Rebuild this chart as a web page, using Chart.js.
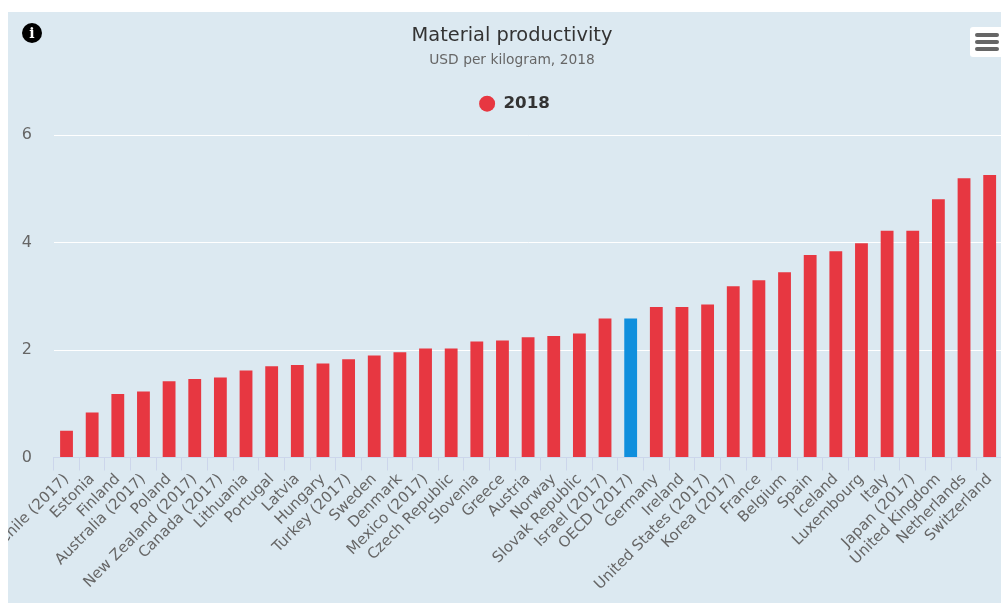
<!DOCTYPE html>
<html>
<head>
<meta charset="utf-8">
<title>Material productivity</title>
<script src="https://cdn.jsdelivr.net/npm/chart.js@4/dist/chart.umd.min.js"></script>
<style>
  html, body { margin: 0; height: 100%; overflow: hidden; background: #fff; }
  #panel { position: absolute; left: 8px; top: 12px; width: 1008px; height: 591px; background: #dce9f1; }
  #info { position: absolute; left: 14px; top: 11px; width: 20px; height: 20px; border-radius: 50%; background: #000; color: #fff;
    font: bold 14px/20px "DejaVu Serif", serif; text-align: center; }
  #menu { position: absolute; left: 962px; top: 15px; width: 46px; height: 30px; border-radius: 3px; background: #fff; }
  #menu i { position: absolute; left: 5px; width: 24px; height: 4px; border-radius: 2px; background: #666; }
</style>
</head>
<body>
<div id="panel">
  <canvas id="myChart" width="1008" height="591"></canvas>
  <div id="info">i</div>
  <div id="menu"><i style="top:6px"></i><i style="top:13px"></i><i style="top:20px"></i></div>
</div>
<script>
var countries = ["Chile (2017)", "Estonia", "Finland", "Australia (2017)", "Poland", "New Zealand (2017)", "Canada (2017)", "Lithuania", "Portugal", "Latvia", "Hungary", "Turkey (2017)", "Sweden", "Denmark", "Mexico (2017)", "Czech Republic", "Slovenia", "Greece", "Austria", "Norway", "Slovak Republic", "Israel (2017)", "OECD (2017)", "Germany", "Ireland", "United States (2017)", "Korea (2017)", "France", "Belgium", "Spain", "Iceland", "Luxembourg", "Italy", "Japan (2017)", "United Kingdom", "Netherlands", "Switzerland"];
var values2018 = [0.50, 0.84, 1.18, 1.23, 1.42, 1.46, 1.49, 1.62, 1.70, 1.72, 1.75, 1.83, 1.90, 1.96, 2.03, 2.03, 2.16, 2.18, 2.24, 2.26, 2.31, 2.59, 2.59, 2.80, 2.80, 2.85, 3.19, 3.30, 3.45, 3.77, 3.84, 3.99, 4.22, 4.22, 4.81, 5.20, 5.26];
var yTicks = [0, 2, 4, 6];

var RED = "#e73741";
var BLUE = "#0f8fdd";
var FONT = "'DejaVu Sans', sans-serif";

// legend has a fixed 10px below it, this gives it more room and nudges it right
var legendSpace = {
  id: "legendSpace",
  afterInit: function (chart) {
    var fit = chart.legend.fit;
    chart.legend.fit = function () {
      fit.call(this);
      this.height += 13.2;
      this.lineWidths[0] -= 5;
    };
  },
};

var ctx = document.getElementById("myChart").getContext("2d");
var myChart = new Chart(ctx, {
  type: "bar",
  plugins: [legendSpace],
  data: {
    labels: countries,
    datasets: [{
      label: "2018",
      data: values2018,
      backgroundColor: function (c) { return countries[c.dataIndex] === "OECD (2017)" ? BLUE : RED; },
      barPercentage: 0.5,
      categoryPercentage: 1,
    }]
  },
  options: {
    responsive: false,
    animation: false,
    layout: { padding: { left: 0, right: 0, top: 12, bottom: 0 } },
    plugins: {
      title: {
        display: true,
        text: "Material productivity",
        color: "#333",
        font: { family: FONT, size: 19.4, weight: "normal" },
        padding: { top: 0, bottom: 4.5 },
      },
      subtitle: {
        display: true,
        text: "USD per kilogram, 2018",
        color: "#666",
        font: { family: FONT, size: 13.8, weight: "normal" },
        padding: { top: 0, bottom: 17 },
      },
      legend: {
        position: "top",
        labels: {
          usePointStyle: true,
          pointStyle: "circle",
          boxHeight: 11.3,
          pointStyleWidth: 16,
          color: "#333",
          font: { family: FONT, size: 16.7, weight: "bold" },
          padding: 10,
          generateLabels: function () {
            return [{ text: "2018", fontColor: "#333", fillStyle: RED, strokeStyle: RED, lineWidth: 0, pointStyle: "circle", datasetIndex: 0 }];
          },
        },
      },
    },
    scales: {
      x: {
        grid: { drawOnChartArea: false, color: "#ccd6eb", tickLength: 13 },
        border: { color: "#ccd6eb" },
        ticks: {
          color: "#666",
          font: { family: FONT, size: 15 },
          autoSkip: false,
          minRotation: 45,
          maxRotation: 45,
          padding: 0,
        },
        afterFit: function (scale) {
          scale.paddingLeft = 0;
          scale.paddingRight = 13.5;
          scale.height = 145.5;
        },
      },
      y: {
        min: 0,
        max: 6,
        afterBuildTicks: function (scale) {
          scale.ticks = yTicks.map(function (v) { return { value: v }; });
        },
        grid: { color: "#fff", drawTicks: false },
        border: { display: false },
        ticks: {
          color: "#666",
          font: { family: FONT, size: 16 },
          padding: 21.7,
        },
        afterFit: function (scale) {
          scale.width = 45.7;
        },
      },
    },
  },
});
</script>
</body>
</html>
